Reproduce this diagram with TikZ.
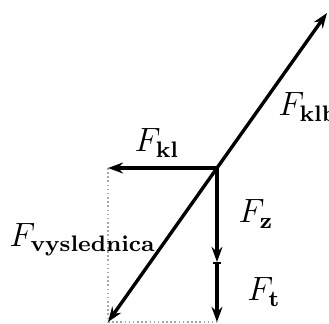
\documentclass[tikz,border=0pt]{standalone}
\usepackage{amsmath}
\usetikzlibrary{arrows.meta, positioning}
\tikzset{
  force/.style={line width=1.3pt, -{Stealth[length=5.8pt, width=4.2pt]}},
  helper/.style={gray!70, densely dotted, line width=0.6pt},
  flabel/.style={font=\large, scale=1.08, transform shape, inner sep=1pt}
}
\begin{document}
\begin{tikzpicture}[x=0.385pt, y=-0.385pt]
    \useasboundingbox (0,0) rectangle (329,324);
    % points of the force diagram
    \coordinate (O) at (217,168);
    \coordinate (kl) at (108,168);
    \coordinate (z) at (217,262);
    \coordinate (t) at (217,322);
    \coordinate (v) at (108,322);
    \coordinate (klb) at (327,13);
    % construction lines
    \draw[helper] (kl) -- (v);
    \draw[helper] (v) -- (t);
    % forces
    \draw[force] (O) -- (kl);
    \draw[force] (O) -- (z);
    \draw[force, {Bar[width=3pt, line width=0.6pt]}-{Stealth[length=5.8pt, width=4.2pt]}] (z) -- (t);
    \draw[force] (O) -- (v);
    \draw[force] (O) -- (klb);
    % labels
    \node[flabel] (lkl) at (157,143) {$F_{\mathbf{kl}}$};
    \node[flabel] (lz) at (256,214) {$F_{\mathbf{z}}$};
    \node[flabel] (lt) at (264,292) {$F_{\mathbf{t}}$};
    \node[flabel, anchor=west] (lklb) at (275,107) {$F_{\mathbf{klb}}$};
    \node[flabel, anchor=west] (lv) at (6,240) {$F_{\mathbf{vyslednica}}$};
\end{tikzpicture}
\end{document}
